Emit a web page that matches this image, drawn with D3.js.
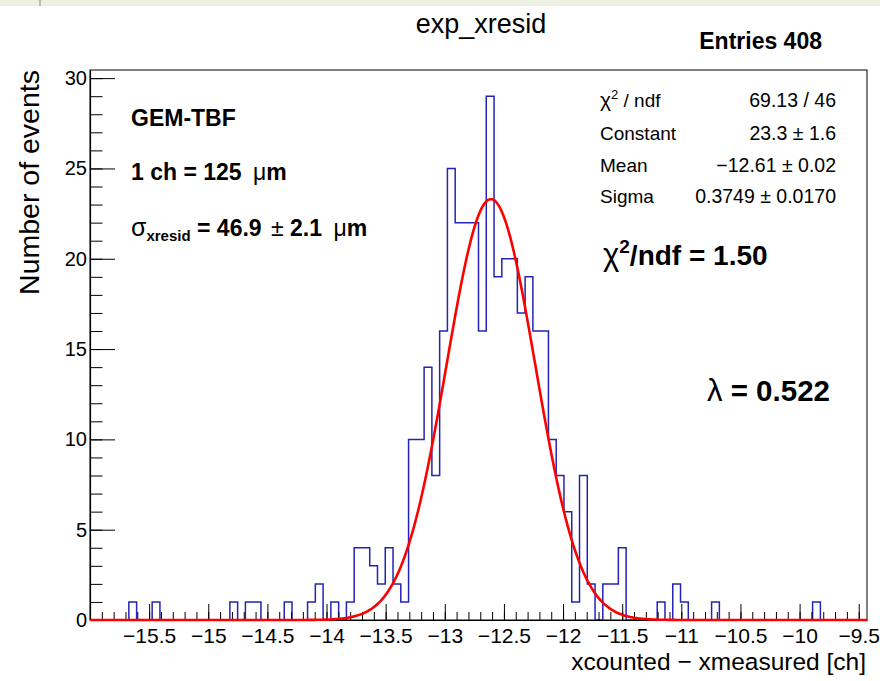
<!DOCTYPE html>
<html>
<head>
<meta charset="utf-8">
<script src="https://cdn.jsdelivr.net/npm/d3@7"></script>
<style>
    body { margin: 0; background: #fff; }
    svg text { font-family: "Liberation Sans", Arial, Helvetica, sans-serif; fill: #000; }
</style>
</head>
<body>
<svg id="chart" width="880" height="681"></svg>
<script>

    // histogram contents, 100 bins starting at binLow
    const binCounts = [
        0, 0, 0, 0, 0, 1, 0, 0, 1, 0,
        0, 0, 0, 0, 0, 0, 0, 0, 1, 0,
        1, 1, 0, 0, 0, 1, 0, 0, 1, 2,
        0, 1, 0, 1, 4, 4, 3, 2, 4, 2,
        1, 10, 10, 14, 8, 16, 25, 22, 22, 22,
        16, 29, 19, 20, 20, 17, 19, 16, 16, 10,
        8, 6, 1, 8, 2, 0, 2, 2, 4, 0,
        0, 0, 0, 1, 0, 2, 1, 0, 0, 0,
        1, 0, 0, 0, 0, 0, 0, 0, 0, 0,
        0, 0, 0, 1, 0, 0, 0, 0, 0, 0
    ];
    const binLow = -16;
    const binWidth = 0.0657;

    const xTicks = [-15.5, -15, -14.5, -14, -13.5, -13, -12.5, -12, -11.5, -11, -10.5, -10, -9.5];
    const yTicks = [0, 5, 10, 15, 20, 25, 30];

    // gaussian fit: constant, mean, sigma
    const fitParams = [23.3, -12.61, 0.3749];

    const statNames = ["χ2 / ndf", "Constant", "Mean", "Sigma"];
    const statValues = ["69.13 / 46", "23.3 ± 1.6", "−12.61 ± 0.02", "0.3749 ± 0.0170"];

    const W = 880, H = 681;
    const frame = {left: 90, right: 867, top: 70, bottom: 620};

    const svg = d3.select("#chart");
    svg.append("rect").attr("width", W).attr("height", H).attr("fill", "#fff");

    // pale strip left over from the screenshot
    svg.append("rect").attr("x", 0).attr("y", 0).attr("width", W).attr("height", 6).attr("fill", "#eef0e3");
    svg.append("line").attr("x1", 40).attr("x2", 40).attr("y1", 0).attr("y2", 6)
        .attr("stroke", "#8a8f80").attr("stroke-width", 1);

    const xMax = binLow + binCounts.length * binWidth;
    const x = d3.scaleLinear().domain([binLow, xMax]).range([frame.left, frame.right]);
    const y = d3.scaleLinear().domain([0, d3.max(binCounts) * 1.05]).range([frame.bottom, frame.top]);

    const minus = v => d3.format("")(v).replace("-", "−");

    // frame
    svg.append("rect")
        .attr("x", frame.left).attr("y", frame.top)
        .attr("width", frame.right - frame.left).attr("height", frame.bottom - frame.top)
        .attr("fill", "none").attr("stroke", "#000").attr("stroke-width", 1);

    // histogram outline
    const stepPts = binCounts.map((c, i) => [binLow + i * binWidth, c]);
    stepPts.push([xMax, binCounts[binCounts.length - 1]]);
    svg.append("path")
        .datum(stepPts)
        .attr("fill", "none")
        .attr("stroke", "#2424b4")
        .attr("stroke-width", 1.5)
        .attr("d", d3.line().x(d => x(d[0])).y(d => y(d[1])).curve(d3.curveStepAfter));

    // x axis
    const xMinor = d3.range(-159, -94).map(k => k / 10).filter(v => v > binLow && v <= -9.5);
    svg.append("g")
        .attr("transform", `translate(0,${frame.bottom})`)
        .call(d3.axisBottom(x).tickValues(xMinor).tickSize(-8).tickSizeOuter(0).tickFormat(""))
        .call(g => g.select(".domain").remove());
    const gx = svg.append("g")
        .attr("transform", `translate(0,${frame.bottom})`)
        .call(d3.axisBottom(x).tickValues(xTicks).tickSize(-16).tickSizeOuter(0).tickPadding(8).tickFormat(minus));
    gx.select(".domain").attr("stroke-width", 1.2);
    gx.selectAll("text").attr("font-size", 21).attr("font-family", "Liberation Sans, Arial, sans-serif");

    // y axis
    svg.append("g")
        .attr("transform", `translate(${frame.left},0)`)
        .call(d3.axisLeft(y).tickValues(d3.range(0, 31)).tickSize(-12.5).tickSizeOuter(0).tickFormat(""))
        .call(g => g.select(".domain").remove());
    const gy = svg.append("g")
        .attr("transform", `translate(${frame.left},0)`)
        .call(d3.axisLeft(y).tickValues(yTicks).tickSize(-25).tickSizeOuter(0).tickPadding(3).tickFormat(minus));
    gy.select(".domain").attr("stroke-width", 1.2);
    gy.selectAll("text").attr("font-size", 20).attr("font-family", "Liberation Sans, Arial, sans-serif");

    // gaussian fit curve
    const gauss = v => fitParams[0] * Math.exp(-0.5 * Math.pow((v - fitParams[1]) / fitParams[2], 2));
    const curveX = d3.range(0, 401).map(i => binLow + (xMax - binLow) * i / 400);
    svg.append("path")
        .datum(curveX)
        .attr("fill", "none")
        .attr("stroke", "#ff0000")
        .attr("stroke-width", 2.6)
        .attr("d", d3.line().x(d => x(d)).y(d => y(gauss(d))).curve(d3.curveMonotoneX));

    // titles
    svg.append("text").attr("x", 481).attr("y", 33).attr("text-anchor", "middle")
        .attr("font-size", 27).text("exp_xresid");
    svg.append("text").attr("x", 822).attr("y", 49).attr("text-anchor", "end")
        .attr("font-size", 23).attr("font-weight", "bold").text("Entries 408");

    svg.append("text").attr("x", 866).attr("y", 670).attr("text-anchor", "end")
        .attr("font-size", 24.5).text("xcounted − xmeasured [ch]");
    svg.append("text").attr("transform", "translate(39,70) rotate(-90)").attr("text-anchor", "end")
        .attr("font-size", 28.5).text("Number of events");

    // fit statistics
    const statY = [107, 140, 172, 203];
    statNames.forEach((n, i) => {
        const t = svg.append("text").attr("x", 600).attr("y", statY[i]).attr("font-size", 19);
        if (i === 0) {
            t.append("tspan").attr("font-size", 21).text("χ");
            t.append("tspan").attr("font-size", 13).attr("dy", -8).text("2");
            t.append("tspan").attr("dy", 8).text(" / ndf");
        } else {
            t.text(n);
        }
        svg.append("text").attr("x", 836).attr("y", statY[i]).attr("text-anchor", "end")
            .attr("font-size", 19.5).text(statValues[i]);
    });

    const chi = svg.append("text").attr("x", 603).attr("y", 265).attr("font-size", 28).attr("font-weight", "bold");
    chi.append("tspan").attr("font-weight", "normal").attr("font-size", 31).text("χ");
    chi.append("tspan").attr("font-size", 19).attr("dy", -12).text("2");
    chi.append("tspan").attr("dy", 12).text("/ndf = 1.50");

    const lam = svg.append("text").attr("x", 707).attr("y", 401).attr("font-size", 29.5).attr("font-weight", "bold");
    lam.append("tspan").attr("font-weight", "normal").attr("font-size", 31).text("λ");
    lam.append("tspan").text(" = 0.522");

    // detector labels
    svg.append("text").attr("x", 131).attr("y", 126).attr("font-size", 23).attr("font-weight", "bold").text("GEM-TBF");
    const ch = svg.append("text").attr("x", 131).attr("y", 180).attr("font-size", 23).attr("font-weight", "bold");
    ch.append("tspan").text("1 ch = 125 ");
    ch.append("tspan").attr("font-weight", "normal").attr("dx", 5).text(" μ");
    ch.append("tspan").text("m");
    const sg = svg.append("text").attr("x", 131).attr("y", 236).attr("font-size", 23).attr("font-weight", "bold");
    sg.append("tspan").attr("font-weight", "normal").attr("font-size", 25).text("σ");
    sg.append("tspan").attr("font-size", 15).attr("dy", 5).text("xresid");
    sg.append("tspan").attr("dy", -5).text(" = 46.9 ");
    sg.append("tspan").attr("font-weight", "normal").attr("dx", 3).text("±");
    sg.append("tspan").text(" 2.1 ");
    sg.append("tspan").attr("font-weight", "normal").attr("dx", 5).text(" μ");
    sg.append("tspan").text("m");

</script>
</body>
</html>
